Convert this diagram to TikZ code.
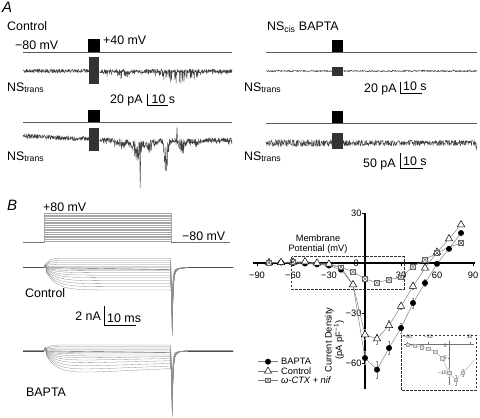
\documentclass[tikz,border=0pt]{standalone}
\usepackage{fontspec}
\setmainfont{Liberation Sans}
\usetikzlibrary{shapes.geometric}
\begin{document}
\begin{tikzpicture}[x=1pt,y=-1pt,
 lbl/.style={font=\fontsize{12.4}{14}\selectfont, inner sep=0pt, anchor=base west},
 panel/.style={font=\fontsize{15}{17}\selectfont\itshape, inner sep=0pt, anchor=base west},
 noisy/.style={draw=black!75, line width=0.4pt, line join=round},
 blockfill/.style={fill=black!80},
 vbox/.style={fill=black},
 vline/.style={draw=black!65, line width=0.7pt},
 sbar/.style={draw=black, line width=1pt},
 fam/.style={draw=black!45, line width=0.3pt},
 stepl/.style={draw=black!35, line width=0.3pt},
 axisl/.style={draw=black, line width=1.2pt},
 ivl/.style={font=\fontsize{9.3}{10.5}\selectfont, inner sep=0pt},
 inl/.style={font=\fontsize{5}{6}\selectfont, inner sep=0pt, text=black!80},
 serline/.style={draw=black!50, line width=0.5pt},
 errb/.style={draw=black!45, line width=0.4pt},
 mb/.style={circle, fill=black, inner sep=0pt, minimum size=6pt},
 mc/.style={regular polygon, regular polygon sides=3, draw=black, fill=white, line width=0.5pt, inner sep=0pt, minimum size=8.5pt},
 ms/.style={rectangle, draw=black!60, fill=white, line width=0.5pt, inner sep=0pt, minimum size=4.8pt,
   path picture={\draw[black!70, line width=0.4pt] (path picture bounding box.north west) -- (path picture bounding box.south east) (path picture bounding box.north east) -- (path picture bounding box.south west);}},
 msi/.style={rectangle, draw=black!35, fill=black!12, line width=0.4pt, inner sep=0pt, minimum size=3.4pt},
 dbox/.style={draw=black!80, line width=0.7pt, dash pattern=on 2.5pt off 1.5pt},
]
\useasboundingbox (0,0) rectangle (480,418);
\pgfmathsetseed{11}
% ================= Panel A =================
\node[panel] (lA) at (2,12) {A};
\node[lbl] (ctl) at (7,30) {Control};
\node[lbl] (m80a) at (15,49.5) {−80 mV};
\node[lbl] (p40) at (103,44) {+40 mV};
% voltage 1
\draw[vline] (23,52) -- (232,52);
\fill[vbox] (88,39) rectangle (100,52);
% current 1
\draw[noisy] plot[domain=23:89, samples=260, variable=\t] (\t,{71+1.9*rand});
\draw[noisy] plot[domain=99.5:232, samples=520, variable=\t]
  (\t,{71+1.9*rand+(rnd>0.7)*rnd*(3+11*exp(-((\t-178)/16)*((\t-178)/16))+7*exp(-((\t-118)/8)*((\t-118)/8)))});
\fill[blockfill] (89.3,57) rectangle (99.3,83.5);
\node[lbl] (ns1) at (7,91) {NS\textsubscript{trans}};
\draw[sbar] (147.7,94) -- (147.7,105) -- (167.7,105);
\node[lbl] (s1) at (110,103) {20 pA};
\node[lbl] (s1b) at (151.5,103) {10 s};
% voltage 2
\draw[vline] (23,122) -- (232,122);
\fill[vbox] (88,110) rectangle (100,122);
% current 2
\draw[noisy] plot[domain=23:89, samples=260, variable=\t] (\t,{136+3*(\t-23)/66+2.4*rand});
\draw[noisy] plot[domain=99.5:232, samples=560, variable=\t]
  (\t,{140+2.3*rand+(rnd>0.8)*3*rnd+rnd*(22*exp(-((\t-137)/5)*((\t-137)/5))+34*exp(-((\t-166)/2.5)*((\t-166)/2.5))+16*exp(-((\t-182)/3.5)*((\t-182)/3.5))+12*exp(-((\t-150)/6)*((\t-150)/6))+7*exp(-((\t-122)/8)*((\t-122)/8))+6*exp(-((\t-196)/5)*((\t-196)/5)))});
\draw[noisy] (139.5,142) -- (140.2,188) -- (140.9,143);
\draw[noisy] (176.5,139) -- (177,127) -- (177.5,139);
\fill[blockfill] (89.3,128) rectangle (99.3,151);
\node[lbl] (ns2) at (7,160) {NS\textsubscript{trans}};
% right side
\node[lbl] (nscis) at (267,30) {NS\textsubscript{cis} BAPTA};
\draw[vline] (266,52) -- (477,52);
\fill[vbox] (332,40) rectangle (343,52);
\draw[noisy] plot[domain=266:477, samples=520, variable=\t] (\t,{71+0.9*rand});
\fill[blockfill] (332,67) rectangle (343,76);
\node[lbl] (ns3) at (244,91) {NS\textsubscript{trans}};
\draw[sbar] (400,82) -- (400,93) -- (422,93);
\node[lbl] (s3) at (364,92) {20 pA};
\node[lbl] (s3b) at (403,90.5) {10 s};
\draw[vline] (266,123) -- (477,123);
\fill[vbox] (332,111) rectangle (343,123);
\draw[noisy] plot[domain=266:476, samples=700, variable=\t] (\t,{143+(\t<340 ? 3.6 : 2.9)*rand});
\draw[noisy] (475.5,143) -- (476.3,150) -- (477,143);
\fill[blockfill] (332,133) rectangle (343,149);
\node[lbl] (ns4) at (244,160) {NS\textsubscript{trans}};
\draw[sbar] (400,153) -- (400,168) -- (423,168);
\node[lbl] (s4) at (363,167) {50 pA};
\node[lbl] (s4b) at (403,165.5) {10 s};
% ================= Panel B traces =================
\node[panel] (lB) at (7,210) {B};
\node[lbl] (p80) at (43,211) {+80 mV};
\node[lbl] (m80b) at (182,240.5) {−80 mV};
\foreach \k in {0,...,16} \draw[stepl] (44,{213+\k*1.75}) -- (170.7,{213+\k*1.75});
\draw[stepl] (44,213) -- (44,242.7) (170.7,213) -- (170.7,242.7);
\draw[draw=black!55, line width=0.5pt] (23,242.7) -- (44,242.7) (170.7,242.7) -- (230,242.7);
% control family
\foreach \L/\D in {-9.5/62,-7.5/69,-5.5/67,-3.5/65,-1.5/63,0/60,1.5/57,3/54,5/50,7.5/46,10/42,13/38,16/34,19/30,22.3/26} {
  \pgfmathsetmacro{\tc}{\L<0 ? 3.5 : 10}
  \draw[fam] (23,267.7) -- (44,267.7) -- (45.5,264.5) -- plot[domain=46.5:170.7, samples=35, variable=\t] (\t,{267.7+\L*(1-exp(-(\t-44)/\tc))}) -- (172.3,{267.7+\D}) -- plot[domain=172.8:233, samples=70, variable=\t] (\t,{267.7+\D*(0.82*exp(-(\t-172.3)/0.7)+0.18*exp(-(\t-172.3)/3))});
}
\draw[draw=black!70, line width=0.45pt] (23,267.7) -- (44,267.7) (188,267.7) -- (233,267.7);
\draw[draw=black!60, line width=0.4pt] (46,267.7) -- (170.7,269.5);
\node[lbl] (ctlB) at (25,297) {Control};
\draw[sbar] (104,306) -- (104,325) -- (136,325);
\node[lbl, anchor=base east] (s5) at (101,320) {2 nA};
\node[lbl] (s5b) at (107,322.5) {10 ms};
% BAPTA family
\foreach \L/\D in {-6/55,-4.5/66,-3/64,-1.5/62,0/60,1.5/57,3/54,5/50,7.5/46,10/42,13/38,16.5/34,20/30,23.5/26} {
  \pgfmathsetmacro{\tc}{\L<0 ? 3.5 : 11}
  \pgfmathsetmacro{\kk}{\L>5 ? 0.25 : 0}
  \draw[fam] (23,351) -- (44,351) -- (45.5,347.5) -- plot[domain=46.5:170.7, samples=35, variable=\t] (\t,{351+\L*(1-exp(-(\t-44)/\tc))*(1-\kk*(\t-44)/126)}) -- (172.3,{351+\D}) -- plot[domain=172.8:233, samples=70, variable=\t] (\t,{351+\D*(0.82*exp(-(\t-172.3)/0.7)+0.18*exp(-(\t-172.3)/3))});
}
\draw[draw=black!70, line width=0.45pt] (23,351) -- (44,351) (188,351) -- (233,351);
\draw[draw=black!60, line width=0.4pt] (46,351) -- (170.7,352.5);
\node[lbl] (bap) at (26,396) {BAPTA};
% ================= IV plot =================
\node[ivl, align=center] (memb) at (318,244) {Membrane\\Potential (mV)};
\node[ivl, align=center, rotate=90] (cd) at (334.5,340) {Current Density\\(pA pF\textsuperscript{−1})};
\begin{scope}[xshift=365pt,yshift=-263pt,x=1.2pt,y=1.6667pt]
\draw[axisl] (-93,0) -- (92,0);
\draw[axisl] (0,30) -- (0,-75.6);
\foreach \v in {-90,-60,-30,30,60,90} \draw[line width=0.8pt] (\v,0) -- (\v,-1.8);
\foreach \v in {30,-30,-60} \draw[line width=0.8pt] (0,\v) -- (-2.5,\v);
\foreach \v/\s [count=\k] in {-90/−90,-60/−60,-30/−30,30/30,60/60,90/90} \node[ivl] (xl\k) at (\v,-7.2) {\s};
\node[ivl, anchor=east] (yl1) at (-2.8,30) {30};
\node[ivl, anchor=east] (yl2) at (-5,0) {0};
\node[ivl, anchor=east] (yl3) at (-2.8,-30) {−30};
\node[ivl, anchor=east] (yl4) at (-2.8,-60) {−60};
% series lines
\draw[serline] plot coordinates {(-80,0.3)(-70,0.3)(-60,0.6)(-50,0)(-40,-0.5)(-30,-1.2)(-20,-2.5)(-10,-5.2)(0,-9.5)(10,-11.8)(20,-10)(30,-8.6)(40,-2.2)(50,2)(60,6)(70,9.5)(80,12)};
\draw[serline] plot coordinates {(-80,0.3)(-70,0.3)(-60,0.5)(-50,0.8)(-40,0)(-30,-0.6)(-20,-2.5)(-10,-13)(0,-43)(10,-45.5)(20,-37.5)(30,-26)(40,-14)(50,-3)(60,6.5)(70,14.5)(80,23)};
\draw[serline] plot coordinates {(-80,0.3)(-70,0.3)(-60,0)(-50,-0.3)(-40,-0.8)(-30,-1.5)(-20,-4)(-10,-13)(0,-57)(10,-64)(20,-51)(30,-39)(40,-24)(50,-12)(60,-0.5)(70,8.5)(80,18)};
% error bars
\foreach \x/\y/\e in {0/-57/4,10/-64/5,20/-51/4,30/-39/3,40/-24/3,50/-12/2,0/-43/3,10/-45.5/3,20/-37.5/3,30/-26/2,40/-14/2,10/-11.8/1.5,0/-9.5/1.5}
  \draw[errb] (\x,\y-\e) -- (\x,\y+\e) (\x-1,\y-\e) -- (\x+1,\y-\e) (\x-1,\y+\e) -- (\x+1,\y+\e);
% markers
\foreach \x/\y [count=\k] in {-80/0.3,-70/0.3,-60/0,-50/-0.3,-40/-0.8,-30/-1.5,-20/-4,0/-57,10/-64,20/-51,30/-39,40/-24,50/-12,60/-0.5,70/8.5,80/18}
  \node[mb] (b\k) at (\x,\y) {};
\foreach \x/\y [count=\k] in {-80/0.3,-70/0.3,-60/0.5,-50/0.8,-40/0,-30/-0.6,-10/-13,0/-43,10/-45.5,20/-37.5,30/-26,40/-14,50/-3,60/6.5,70/14.5,80/23}
  \node[mc] (c\k) at (\x,\y) {};
\foreach \x/\y [count=\k] in {-80/0.3,-60/0.6,-20/-2.5,-10/-5.2,0/-9.5,10/-11.8,20/-10,30/-8.6,40/-2.2,50/2,60/6,80/12}
  \node[ms] (q\k) at (\x,\y) {};
\draw[dbox] (-61.1,3.8) rectangle (32.5,-15.6);
\end{scope}
% legend
\draw[serline] (258,361.7) -- (278,361.7);
\node[mb] (lgb) at (268,361.7) {};
\node[ivl, anchor=west] (lgbt) at (281,361.7) {BAPTA};
\draw[serline] (258,371) -- (278,371);
\node[mc, minimum size=8pt] (lgc) at (268,371) {};
\node[ivl, anchor=west] (lgct) at (281,371) {Control};
\draw[serline] (258,380.3) -- (278,380.3);
\node[ms] (lgs) at (268,380.3) {};
\node[ivl, anchor=west] (lgst) at (281,380.5) {\itshape ω-CTX + nif};
% inset
\draw[dbox] (401,335) rectangle (476,390);
\begin{scope}[xshift=449pt,yshift=-344pt,x=0.69pt,y=2.9pt]
\draw[black!55, line width=0.5pt] (-65,0) -- (36,0);
\draw[black!55, line width=0.5pt] (0,1.2) -- (0,-14.3);
\foreach \v in {-60,-30,30} \draw[black!55, line width=0.4pt] (\v,0) -- (\v,0.6);
\foreach \v in {-5,-10} \draw[black!55, line width=0.4pt] (0,\v) -- (-2,\v);
\node[inl] (il1) at (-60,2.4) {−60};
\node[inl] (il2) at (-30,2.4) {−30};
\node[inl] (il3) at (30,2.4) {30};
\node[inl, anchor=east] (il4) at (-3,-0.5) {0};
\node[inl, anchor=east] (il5) at (-3,-4.8) {−5};
\node[inl, anchor=east] (il6) at (-3,-10) {−10};
\draw[black!35, line width=0.4pt] plot coordinates {(-60,-0.3)(-50,-0.6)(-40,-1.1)(-30,-1.7)(-20,-2.6)(-10,-4.9)(0,-9.9)(10,-12.4)(20,-9.9)(37,-5.5)};
\foreach \x/\y/\e in {0/-9.9/1.6,10/-12.4/1.8,20/-9.9/1.2}
  \draw[black!35, line width=0.4pt] (\x,\y-\e) -- (\x,\y+\e) (\x-1.5,\y-\e) -- (\x+1.5,\y-\e) (\x-1.5,\y+\e) -- (\x+1.5,\y+\e);
\foreach \x/\y [count=\k] in {-60/-0.3,-50/-0.6,-40/-1.1,-30/-1.7,-20/-2.6,-10/-4.9,0/-9.9,10/-12.4,20/-9.9}
  \node[msi] (iq\k) at (\x,\y) {};
\end{scope}
\end{tikzpicture}
\end{document}
